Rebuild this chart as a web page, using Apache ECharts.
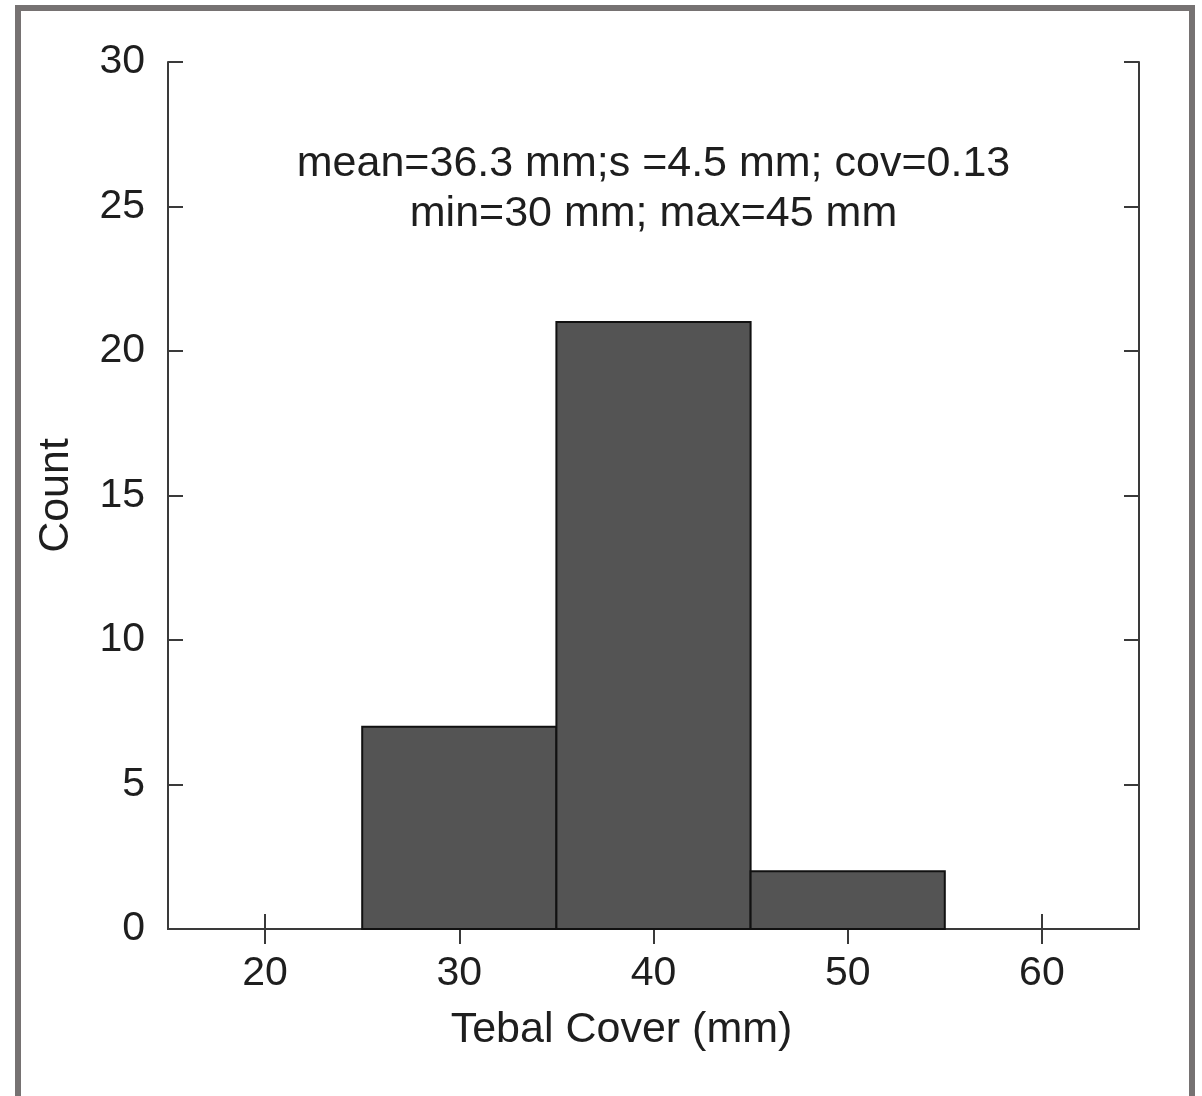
<!DOCTYPE html>
<html>
<head>
<meta charset="utf-8">
<script src="https://cdn.jsdelivr.net/npm/echarts@6/dist/echarts.min.js"></script>
<style>
html,body{margin:0;padding:0;background:#fff;}
#chart{width:1202px;height:1096px;}
</style>
</head>
<body>
<div id="chart"></div>
<script>
// Data
var binStarts = [25, 35, 45];
var binEnds = [35, 45, 55];
var counts = [7, 21, 2];
var xTicks = [20, 30, 40, 50, 60];
var yTicks = [0, 5, 10, 15, 20, 25, 30];
var statsLine1 = 'mean=36.3 mm;s =4.5 mm; cov=0.13';
var statsLine2 = 'min=30 mm; max=45 mm';

var FONT = '"Liberation Sans", Arial, sans-serif';
var AXIS_COLOR = '#3a3a3a';
var TEXT_COLOR = '#1e1e1e';

var histData = binStarts.map(function (s, i) { return [s, binEnds[i], counts[i]]; });

var chart = echarts.init(document.getElementById('chart'), null, {renderer: 'canvas'});

var plotLeft = 168, plotRight = 1139, plotTop = 62, plotBottom = 929;

var option = {
  backgroundColor: '#ffffff',
  animation: false,
  grid: {left: plotLeft, right: 1202 - plotRight, top: plotTop, bottom: 1096 - plotBottom, containLabel: false},
  xAxis: [{
    type: 'value', min: 15, max: 65, position: 'bottom',
    axisLine: {show: true, lineStyle: {color: AXIS_COLOR, width: 2}},
    axisTick: {show: true, inside: true, length: 15, customValues: xTicks, lineStyle: {color: AXIS_COLOR, width: 2}},
    axisLabel: {show: true, customValues: xTicks, margin: 24, fontSize: 41, fontFamily: FONT, color: TEXT_COLOR},
    splitLine: {show: false},
    name: 'Tebal Cover (mm)', nameLocation: 'middle', nameGap: 80,
    nameTextStyle: {fontSize: 43, fontFamily: FONT, color: TEXT_COLOR, padding: [0, 64, 0, 0]}
  }, {
    type: 'value', min: 15, max: 65, position: 'top',
    axisLine: {show: true, lineStyle: {color: AXIS_COLOR, width: 2}},
    axisTick: {show: true, inside: true, length: 15, customValues: xTicks, lineStyle: {color: AXIS_COLOR, width: 2}},
    axisLabel: {show: false},
    splitLine: {show: false}
  }],
  yAxis: [{
    type: 'value', min: 0, max: 30, interval: 5, position: 'left',
    axisLine: {show: true, lineStyle: {color: AXIS_COLOR, width: 2}},
    axisTick: {show: true, inside: true, length: 15, lineStyle: {color: AXIS_COLOR, width: 2}},
    axisLabel: {show: true, margin: 23, fontSize: 41, fontFamily: FONT, color: TEXT_COLOR},
    splitLine: {show: false},
    name: 'Count', nameLocation: 'middle', nameGap: 90, nameRotate: 90,
    nameTextStyle: {fontSize: 43, fontFamily: FONT, color: TEXT_COLOR}
  }, {
    type: 'value', min: 0, max: 30, interval: 5, position: 'right',
    axisLine: {show: true, lineStyle: {color: AXIS_COLOR, width: 2}},
    axisTick: {show: true, inside: true, length: 15, lineStyle: {color: AXIS_COLOR, width: 2}},
    axisLabel: {show: false},
    splitLine: {show: false}
  }],
  graphic: [{
    type: 'rect',
    shape: {x: 18, y: 8, width: 1174, height: 1200},
    style: {fill: null, stroke: '#767272', lineWidth: 6},
    silent: true, z: 100
  }, {
    type: 'text',
    x: (plotLeft + plotRight) / 2, y: 164,
    style: {text: statsLine1, fontSize: 43, fontFamily: FONT, fill: TEXT_COLOR, textAlign: 'center', textVerticalAlign: 'middle'},
    z: 50
  }, {
    type: 'text',
    x: (plotLeft + plotRight) / 2, y: 214,
    style: {text: statsLine2, fontSize: 43, fontFamily: FONT, fill: TEXT_COLOR, textAlign: 'center', textVerticalAlign: 'middle'},
    z: 50
  }],
  series: [{
    type: 'custom',
    xAxisIndex: 0, yAxisIndex: 0,
    data: histData,
    encode: {x: [0, 1], y: 2},
    renderItem: function (params, api) {
      var p0 = api.coord([api.value(0), 0]);
      var p1 = api.coord([api.value(1), api.value(2)]);
      return {
        type: 'rect',
        shape: {x: p0[0], y: p1[1], width: p1[0] - p0[0], height: p0[1] - p1[1]},
        style: {fill: '#545454', stroke: '#111111', lineWidth: 2}
      };
    },
    z: 1
  }]
};

chart.setOption(option);
</script>
</body>
</html>
